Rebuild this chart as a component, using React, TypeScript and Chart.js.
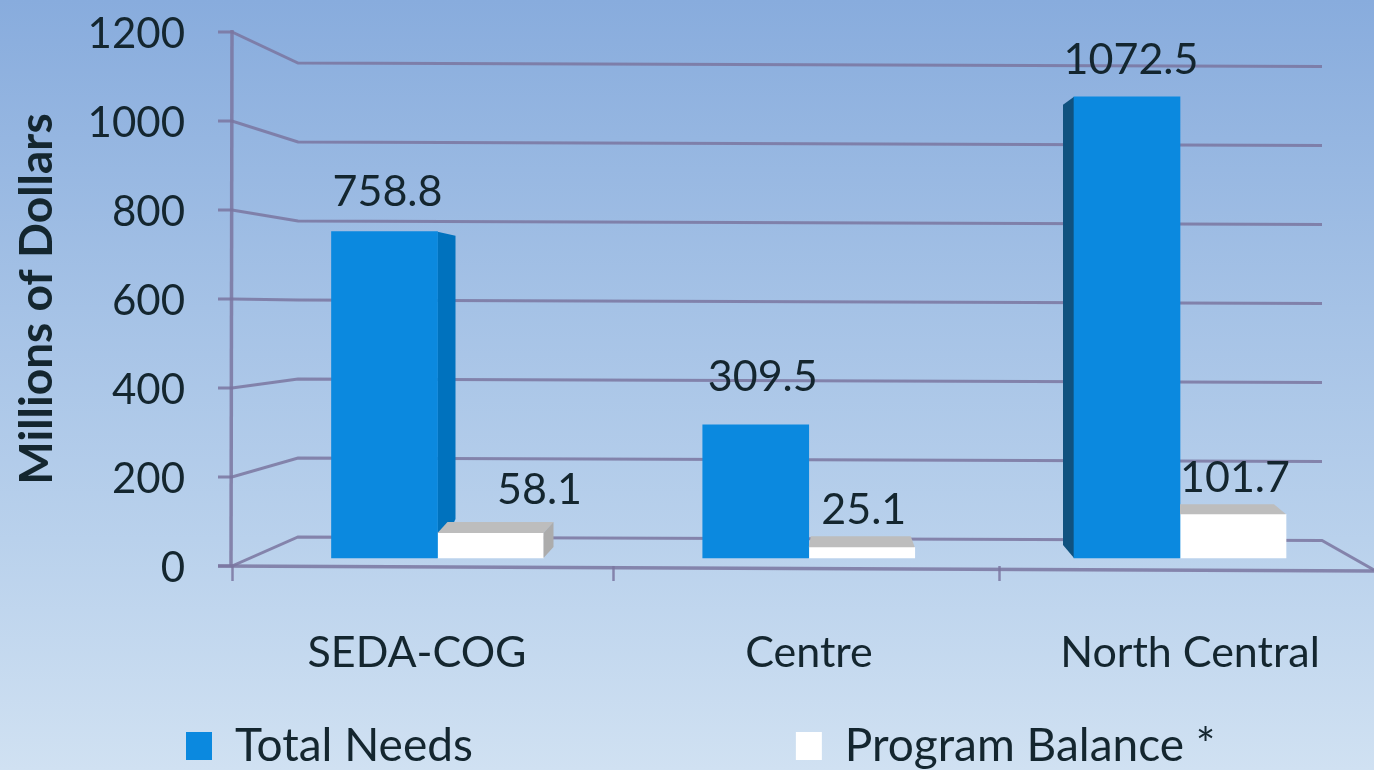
import React, { useEffect, useRef } from "react";
import { Chart, registerables } from "chart.js";

Chart.register(...registerables);

const categories = ["SEDA-COG", "Centre", "North Central"];
const totalNeeds = [758.8, 309.5, 1072.5];
const programBalance = [58.1, 25.1, 101.7];
const seriesNames = ["Total Needs", "Program Balance *"];
const yMax = 1200;
const yStep = 200;

const INK = "#14262f";
const GRID = "rgba(122,118,160,0.85)";
const BLUE = "#0b89df";
const FONT = "Lato";

// Pixel layout
const AREA_LEFT = 232;
const AREA_RIGHT = 1374;
const AREA_TOP = 32;
const AREA_BOTTOM = 566;

// Scale domains that put the groups and labels where the reference has them
const GROUP_CENTER = 437.5;
const GROUP_STEP = 371.25;
const LABEL_CENTER = 417;
const LABEL_STEP = 386.5;
const labelPx = (px: number) => (px - LABEL_CENTER) / LABEL_STEP;
const tickMarkValues = [AREA_LEFT, 613, 1000].map(labelPx);
const labelValues = [0, labelPx(809), 2];

// 3D look, per category
const blueSide = [
  { dx: 18, top: 4, bottom: -39, color: "#0072be" },
  null,
  { dx: -11, top: 8, bottom: -13, color: "#10527f" },
];
const whiteTop = [
  { l: 10, r: 10, h: 11, side: true },
  { l: 2, r: -4, h: 11, side: false },
  { l: 0, r: -12, h: 10, side: false },
];
const labelOffset = [
  [3, -40],
  [7, -48],
  [4, -37],
];
const labelOffset2 = [
  [49, -43],
  [2, -37],
  [2, -36],
];

function poly(ctx: CanvasRenderingContext2D, pts: number[][], fill: string) {
  ctx.beginPath();
  pts.forEach(([x, y], i) => (i ? ctx.lineTo(x, y) : ctx.moveTo(x, y)));
  ctx.closePath();
  ctx.fillStyle = fill;
  ctx.fill();
}

const scene = {
  id: "scene",
  afterLayout(chart: any) {
    const pad = chart.options.plugins.legend.labels.padding;
    chart.legend.left = 186 - pad;
    chart.legend.top = 723 - pad;
    chart.legend.right = 6000;
  },
  beforeDraw(chart: any) {
    const { ctx, width, height } = chart;
    const g = ctx.createLinearGradient(0, 0, 0, height);
    g.addColorStop(0, "#88acdd");
    g.addColorStop(0.4, "#a5c2e6");
    g.addColorStop(0.7, "#b9d1ec");
    g.addColorStop(1, "#d0e1f2");
    ctx.save();
    ctx.fillStyle = g;
    ctx.fillRect(0, 0, width, height);
    ctx.restore();
  },
  beforeDatasetsDraw(chart: any) {
    const { ctx } = chart;
    const y = chart.scales.y;
    const back = (v: number) => 537 + (y.getPixelForValue(v) - AREA_BOTTOM) * (474 / 534);
    ctx.save();
    ctx.strokeStyle = GRID;
    ctx.lineWidth = 3;
    for (let v = 0; v <= yMax; v += yStep) {
      const yf = y.getPixelForValue(v);
      const yb = back(v);
      ctx.beginPath();
      ctx.moveTo(AREA_LEFT - 14, yf);
      ctx.lineTo(AREA_LEFT, yf);
      ctx.lineTo(298, yb);
      ctx.lineTo(1322, yb + 3.5);
      if (v === 0) ctx.lineTo(AREA_RIGHT, AREA_BOTTOM + 4);
      ctx.stroke();
    }
    // Front axis lines
    ctx.lineWidth = 3.5;
    ctx.beginPath();
    ctx.moveTo(AREA_LEFT, AREA_TOP - 2);
    ctx.lineTo(AREA_LEFT - 1, AREA_BOTTOM);
    ctx.stroke();
    ctx.beginPath();
    ctx.moveTo(AREA_LEFT - 14, AREA_BOTTOM);
    ctx.lineTo(AREA_RIGHT, AREA_BOTTOM + 5);
    ctx.stroke();
    // Blue side faces
    chart.getDatasetMeta(0).data.forEach((bar: any, i: number) => {
      const s = blueSide[i];
      if (!s) return;
      const edge = s.dx > 0 ? bar.x + bar.width / 2 : bar.x - bar.width / 2;
      poly(
        ctx,
        [
          [edge, bar.y],
          [edge + s.dx, bar.y + s.top],
          [edge + s.dx, bar.base + s.bottom],
          [edge, bar.base],
        ],
        s.color
      );
    });
    ctx.restore();
  },
  afterDatasetsDraw(chart: any) {
    const { ctx } = chart;
    ctx.save();
    chart.getDatasetMeta(1).data.forEach((bar: any, i: number) => {
      const t = whiteTop[i];
      const L = bar.x - bar.width / 2;
      const R = bar.x + bar.width / 2;
      poly(
        ctx,
        [
          [L, bar.y],
          [L + t.l, bar.y - t.h],
          [R + t.r, bar.y - t.h],
          [R, bar.y],
        ],
        "#bdbdbd"
      );
      if (t.side) {
        poly(
          ctx,
          [
            [R, bar.y],
            [R + t.r, bar.y - t.h],
            [R + t.r, bar.base - t.h],
            [R, bar.base],
          ],
          "#acacac"
        );
      }
    });
    ctx.fillStyle = INK;
    ctx.font = `43px ${FONT}`;
    ctx.textAlign = "center";
    ctx.textBaseline = "middle";
    [labelOffset, labelOffset2].forEach((offs, d) => {
      chart.getDatasetMeta(d).data.forEach((bar: any, i: number) => {
        const value = chart.data.datasets[d].data[i].y;
        ctx.fillText(value.toFixed(1), bar.x + offs[i][0], bar.y + offs[i][1]);
      });
    });
    ctx.restore();
  },
};

export default function App() {
  const ref = useRef<HTMLCanvasElement>(null);
  useEffect(() => {
    document.body.style.margin = "0";
    const chart = new Chart(ref.current as HTMLCanvasElement, {
      type: "bar",
      data: {
        datasets: [
          {
            label: seriesNames[0],
            data: totalNeeds.map((y, x) => ({ x, y })),
            backgroundColor: BLUE,
            xAxisID: "xb",
            yAxisID: "yb",
            barThickness: 106,
          },
          {
            label: seriesNames[1],
            data: programBalance.map((y, x) => ({ x, y })),
            backgroundColor: "#ffffff",
            xAxisID: "xb",
            yAxisID: "yb",
            barThickness: 106,
          },
        ],
      } as any,
      options: {
        animation: false,
        responsive: false,
        layout: { autoPadding: false, padding: { top: AREA_TOP, left: 0, right: 0, bottom: 0 } },
        plugins: {
          tooltip: { enabled: false },
          legend: {
            position: "bottom",
            align: "start",
            maxHeight: 40,
            labels: {
              padding: 323,
              boxWidth: 26,
              boxHeight: 28,
              color: INK,
              font: { family: FONT, size: 46 },
            },
          },
        },
        scales: {
          xb: {
            type: "linear",
            display: false,
            position: "bottom",
            offset: false,
            min: (AREA_LEFT - GROUP_CENTER) / GROUP_STEP,
            max: (AREA_RIGHT - GROUP_CENTER) / GROUP_STEP,
          },
          yb: {
            type: "linear",
            display: false,
            position: "left",
            min: -18.6,
            max: 1223,
          },
          xl: {
            type: "linear",
            position: "bottom",
            bounds: "data",
            offset: false,
            min: labelPx(AREA_LEFT),
            max: labelPx(AREA_RIGHT),
            afterBuildTicks: (s: any) => {
              s.ticks = [...tickMarkValues, ...labelValues]
                .sort((a, b) => a - b)
                .map((value) => ({ value }));
            },
            afterFit: (s: any) => {
              s.height = 770 - 40 - AREA_BOTTOM;
            },
            border: { display: false },
            grid: {
              offset: false,
              drawOnChartArea: false,
              drawTicks: true,
              tickLength: 15,
              tickWidth: 2.5,
              tickColor: (c: any) =>
                c.tick && labelValues.includes(c.tick.value) ? "transparent" : GRID,
            },
            ticks: {
              autoSkip: false,
              maxRotation: 0,
              padding: 46,
              color: INK,
              font: { family: FONT, size: 43 },
              callback: (v: number) => {
                const i = labelValues.indexOf(v);
                return i >= 0 ? categories[i] : "";
              },
            },
          },
          y: {
            type: "linear",
            position: "left",
            min: 0,
            max: yMax,
            afterFit: (s: any) => {
              s.width = AREA_LEFT;
            },
            border: { display: false },
            grid: {
              display: true,
              drawOnChartArea: false,
              drawTicks: true,
              tickLength: 47,
              tickColor: "transparent",
            },
            ticks: {
              stepSize: yStep,
              padding: 0,
              labelOffset: 2,
              color: INK,
              font: { family: FONT, size: 42 },
              callback: (v: number) => String(v),
            },
            title: {
              display: true,
              text: "Millions of Dollars",
              color: INK,
              padding: { top: 10, bottom: 0 },
              font: { family: FONT, size: 46, weight: "bold" },
            },
          },
        },
      } as any,
      plugins: [scene],
    });
    return () => chart.destroy();
  }, []);
  return (
    <div style={{ position: "fixed", left: 0, top: 0, width: 1374, height: 770 }}>
      <canvas ref={ref} width={1374} height={770} />
    </div>
  );
}
